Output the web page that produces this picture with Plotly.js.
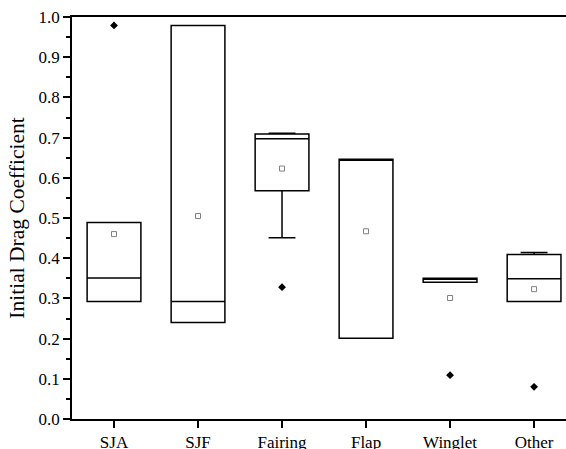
<!DOCTYPE html>
<html>
<head>
<meta charset="utf-8">
<script src="https://cdn.plot.ly/plotly-3.0.1.min.js"></script>
<style>html,body{margin:0;padding:0;overflow:hidden;background:#fff;}#chart{width:566px;height:449px;}</style>
</head>
<body>
<div id="chart"></div>
<script>
var categories = ["SJA", "SJF", "Fairing", "Flap", "Winglet", "Other"];
var q1Values = [0.292, 0.240, 0.568, 0.201, 0.340, 0.292];
var medianValues = [0.351, 0.292, 0.697, 0.646, 0.350, 0.349];
var q3Values = [0.489, 0.979, 0.709, 0.646, 0.350, 0.409];
var lowerFence = [0.292, 0.240, 0.451, 0.201, 0.340, 0.292];
var upperFence = [0.489, 0.979, 0.711, 0.646, 0.350, 0.414];
var meanValues = [0.460, 0.505, 0.623, 0.467, 0.301, 0.323];
var outlierCats = ["SJA", "Fairing", "Winglet", "Other"];
var outlierValues = [0.979, 0.328, 0.109, 0.080];

var fontFamily = "Liberation Serif";

var traces = [
  {
    type: "box",
    x: categories,
    q1: q1Values,
    median: medianValues,
    q3: q3Values,
    lowerfence: lowerFence,
    upperfence: upperFence,
    width: 0.64,
    whiskerwidth: 0.5,
    boxpoints: false,
    line: {color: "#000000", width: 1.5},
    fillcolor: "rgba(0,0,0,0)",
    hoverinfo: "skip",
    showlegend: false
  },
  {
    type: "scatter",
    mode: "markers",
    x: categories,
    y: meanValues,
    marker: {symbol: "square-open", size: 5, color: "#808080", line: {width: 1, color: "#808080"}},
    showlegend: false
  },
  {
    type: "scatter",
    mode: "markers",
    x: outlierCats,
    y: outlierValues,
    marker: {symbol: "diamond", size: 6, color: "#000000"},
    showlegend: false
  }
];

var layout = {
  width: 566,
  height: 449,
  margin: {l: 72, r: 0, t: 17, b: 30, pad: 0},
  paper_bgcolor: "#ffffff",
  plot_bgcolor: "#ffffff",
  showlegend: false,
  font: {family: fontFamily, size: 17, color: "#000000"},
  xaxis: {
    type: "category",
    range: [-0.5, 5.38],
    showgrid: false,
    zeroline: false,
    showline: true,
    linecolor: "#000000",
    linewidth: 1.5,
    mirror: true,
    ticks: "outside",
    ticklen: 7,
    tickwidth: 1.5,
    tickcolor: "#000000"
  },
  yaxis: {
    range: [0, 1],
    dtick: 0.1,
    tickformat: ".1f",
    showgrid: false,
    zeroline: false,
    showline: true,
    linecolor: "#000000",
    linewidth: 1.5,
    ticks: "outside",
    ticklen: 7,
    tickwidth: 1.5,
    tickcolor: "#000000",
    minor: {dtick: 0.05, ticks: "outside", ticklen: 4, tickwidth: 1.5, tickcolor: "#000000", showgrid: false},
    title: {text: "Initial Drag Coefficient", font: {size: 21.5}, standoff: 8}
  }
};

Plotly.newPlot("chart", traces, layout, {displayModeBar: false});
</script>
</body>
</html>
